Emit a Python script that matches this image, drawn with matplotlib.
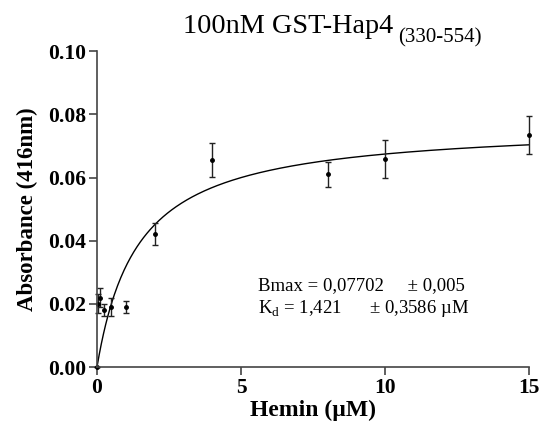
import numpy as np
import matplotlib
matplotlib.use("Agg")
import matplotlib.pyplot as plt

plt.rcParams['font.family'] = ['Liberation Serif', 'DejaVu Serif']
plt.rcParams['mathtext.fontset'] = 'custom'
plt.rcParams['mathtext.rm'] = 'Liberation Serif'

# hemin concentration (uM), absorbance at 416nm and error
hemin = [0, 0.05, 0.1, 0.25, 0.5, 1, 2, 4, 8, 10, 15]
absorb = [0.0, 0.020, 0.022, 0.018, 0.019, 0.019, 0.042, 0.0655, 0.061, 0.066, 0.0735]
err = [0.0, 0.003, 0.003, 0.002, 0.003, 0.002, 0.0035, 0.0054, 0.004, 0.006, 0.006]

bmax = 0.07702
kd = 1.421

fig = plt.figure(figsize=(5.45, 4.3), dpi=100)
ax = fig.add_axes([0.178, 0.1465, 0.793, 0.7345])

xf = np.linspace(0, 15, 400)
ax.plot(xf, bmax*xf/(kd+xf), color='black', linewidth=1.0)
ax.errorbar(hemin, absorb, yerr=err, fmt='o', color='black', markersize=2.5,
            elinewidth=1.0, capsize=2, capthick=1.0, ecolor='#222222')

ax.set_xlim(0, 15)
ax.set_ylim(0, 0.10)
ax.set_xticks([0, 5, 10, 15])
ax.set_yticks([0.00, 0.02, 0.04, 0.06, 0.08, 0.10])
ax.set_yticklabels(['0.00', '0.02', '0.04', '0.06', '0.08', '0.10'])
for s in ['top', 'right']:
    ax.spines[s].set_visible(False)
for s in ['left', 'bottom']:
    ax.spines[s].set_color('#444444')
    ax.spines[s].set_linewidth(1.2)
ax.tick_params(direction='out', length=6, width=1.2, color='#444444', labelsize=15.5, pad=2)
for lab in ax.get_xticklabels() + ax.get_yticklabels():
    lab.set_fontweight('bold')
for c in ax.get_children():
    c.set_clip_on(False)

ax.set_xlabel('Hemin (\u00b5M)', fontsize=17, fontweight='bold', labelpad=1)
ax.set_ylabel('Absorbance (416nm)', fontsize=16.5, fontweight='bold')
ax.yaxis.set_label_coords(-0.137, 0.5)

# title with lowered subscript
fig.text(0.336, 0.923, '100nM GST-Hap4', fontsize=20.3, ha='left', va='baseline')
fig.text(0.730, 0.902, '(330-554)', fontsize=15, ha='left', va='baseline')

ax.text(5.6, 0.0258, 'Bmax = 0,07702     \u00b1 0,005', fontsize=13.5, va='center')
ax.text(5.6, 0.0185, r'K$_{\mathrm{d}}$' + ' = 1,421      \u00b1 0,3586 \u00b5M', fontsize=13.5, va='center')

fig.savefig("out.png", dpi=100)
